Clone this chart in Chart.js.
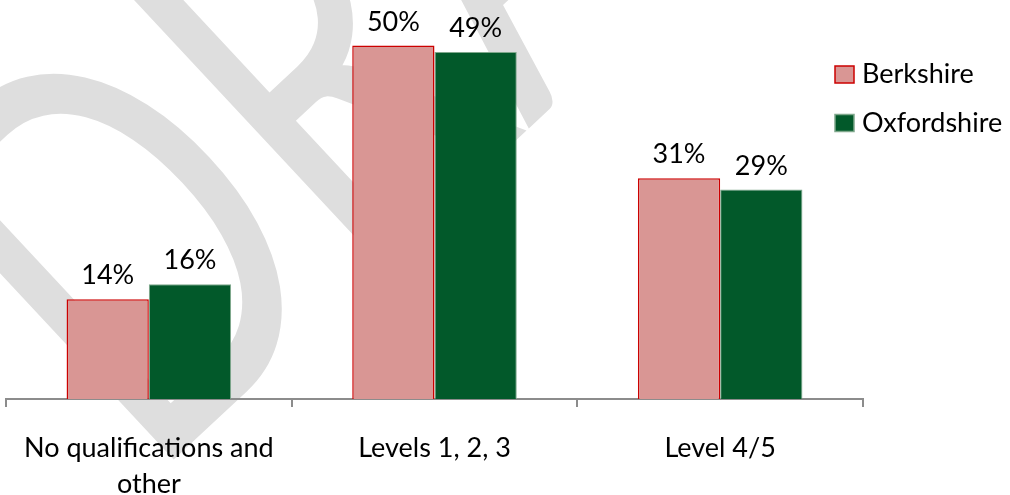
<!DOCTYPE html>
<html lang="en">
<head>
    <meta charset="UTF-8">
    <title>Qualifications</title>
    <script src="https://cdn.jsdelivr.net/npm/chart.js"></script>
</head>
<style>
    body {
        margin: 0;
        background: #ffffff;
    }

    .wrap {
        width: 1010px;
        height: 495px;
        position: relative;
    }
</style>
<body>
    <div class="wrap">
        <canvas id="chart" width="1010" height="495"></canvas>
    </div>

    <script>
        const categories = [['No qualifications and', 'other'], 'Levels 1, 2, 3', 'Level 4/5'];
        const berkshire = [14.0, 49.6, 31.0];
        const oxfordshire = [16.1, 48.7, 29.4];
        const seriesNames = ['Berkshire', 'Oxfordshire'];

        const FONT = 'Lato';

        // grey "DRAFT" stamp, drawn first so axis text and bars sit on top
        const watermark = {
            id: 'watermark',
            beforeDraw(chart) {
                const ctx = chart.ctx;
                const size = 550;
                ctx.save();
                ctx.font = size + 'px ' + FONT;
                // start the D stem exactly at the anchor point
                const lsb = ctx.measureText('D').actualBoundingBoxLeft;
                ctx.translate(170, 463);
                ctx.rotate(-43 * Math.PI / 180);
                ctx.scale(0.68, 1);
                ctx.fillStyle = '#dedede';
                ctx.textBaseline = 'alphabetic';
                ctx.fillText('DRAFT', lsb, 0);
                ctx.restore();
            }
        };

        // percentage above every bar
        const barLabels = {
            id: 'barLabels',
            afterDatasetsDraw(chart) {
                const ctx = chart.ctx;
                ctx.save();
                ctx.font = '27px ' + FONT;
                ctx.fillStyle = '#000000';
                ctx.textAlign = 'center';
                ctx.textBaseline = 'alphabetic';
                chart.data.datasets.forEach((ds, i) => {
                    chart.getDatasetMeta(i).data.forEach((bar, j) => {
                        ctx.fillText(Math.round(ds.data[j]) + '%', bar.x, bar.y - 15);
                    });
                });
                ctx.restore();
            }
        };

        // legend sits over the right end of the plot, like the original
        const sideLegend = {
            id: 'sideLegend',
            afterDraw(chart) {
                const ctx = chart.ctx;
                ctx.save();
                ctx.font = '27px ' + FONT;
                ctx.textBaseline = 'alphabetic';
                chart.data.datasets.forEach((ds, i) => {
                    const y = 83 + i * 48.5;
                    ctx.fillStyle = ds.backgroundColor;
                    ctx.fillRect(835, y - 17, 19, 17);
                    ctx.strokeStyle = ds.borderColor;
                    ctx.lineWidth = 1.5;
                    ctx.strokeRect(835, y - 17, 19, 17);
                    ctx.fillStyle = '#000000';
                    ctx.fillText(ds.label, 862, y);
                });
                ctx.restore();
            }
        };

        const ctx = document.getElementById('chart').getContext('2d');

        const chart = new Chart(ctx, {
            type: 'bar',
            data: {
                labels: categories,
                datasets: [
                    {
                        label: seriesNames[0],
                        data: berkshire,
                        backgroundColor: '#d99694',
                        borderColor: '#cc0000',
                        borderWidth: 1.5,
                    },
                    {
                        label: seriesNames[1],
                        data: oxfordshire,
                        backgroundColor: '#02592a',
                        borderColor: '#7fa88c',
                        borderWidth: 1,
                    },
                ],
            },
            options: {
                responsive: false,
                animation: false,
                categoryPercentage: 0.576,
                barPercentage: 1.0,
                layout: {
                    padding: { left: 6, right: 147, top: 0, bottom: -30 }
                },
                plugins: {
                    legend: { display: false },
                    tooltip: { enabled: false },
                },
                scales: {
                    x: {
                        border: { color: '#8c8c8c', width: 2 },
                        grid: {
                            drawOnChartArea: false,
                            color: '#8c8c8c',
                            lineWidth: 2,
                            tickLength: 8,
                        },
                        ticks: {
                            color: '#000000',
                            padding: 23,
                            font: { family: FONT, size: 27, lineHeight: '36px' },
                            maxRotation: 0,
                            autoSkip: false,
                        },
                    },
                    y: {
                        display: false,
                        min: 0,
                        max: 56,
                    },
                },
            },
            plugins: [watermark, barLabels, sideLegend],
        });
    </script>
</body>
</html>
